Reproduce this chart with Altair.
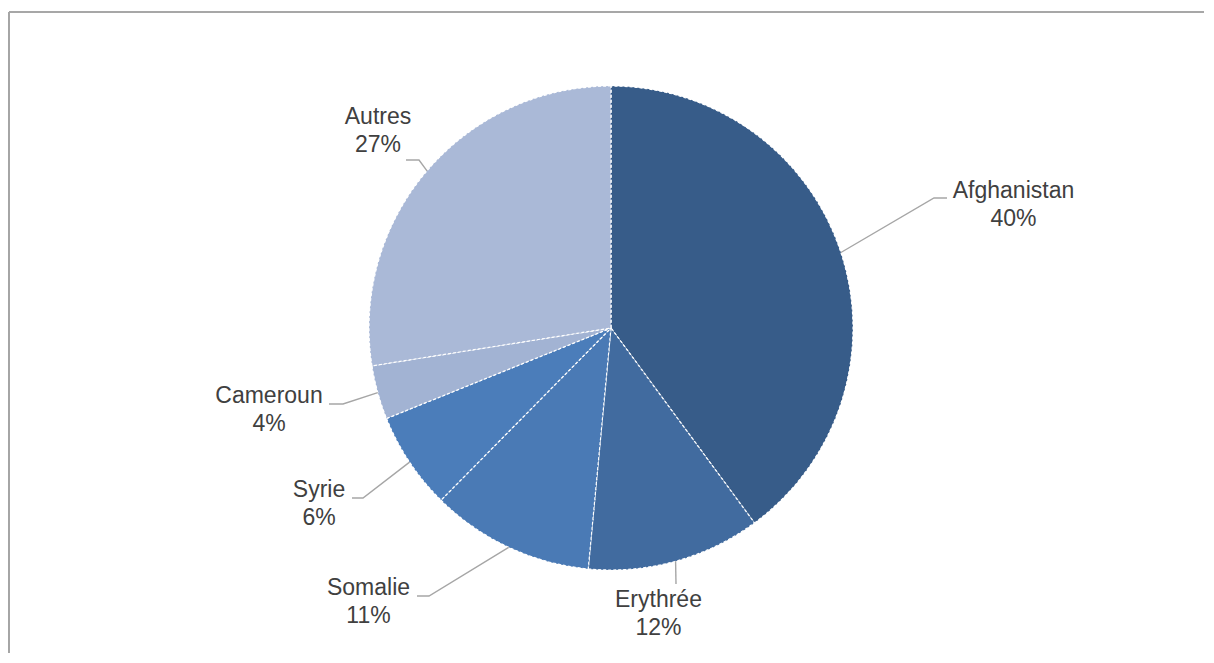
import math
import altair as alt
import pandas as pd

# ---- data ----
countries = ["Afghanistan", "Erythrée", "Somalie", "Syrie", "Cameroun", "Autres"]
shares = [39.9, 11.6, 10.9, 6.5, 3.6, 27.5]
pct_labels = ["40%", "12%", "11%", "6%", "4%", "27%"]
colors = ["#375c89", "#416b9f", "#4a7ab5", "#4b7dba", "#a2b3d3", "#aab9d7"]

# ---- layout (annotation placement, relative to pie centre, y up) ----
W, H = 1196, 645
CX, CY = 603, 320          # pie centre inside the plot area (pixels)
R = 242                    # pie radius
label_xy = [(402.5, 137), (47.5, -271.5), (-242.5, -259.5),
            (-292, -162), (-342, -68), (-233, 211)]
elbow_xy = [(323, 130), (65, -256), (-182, -268),
            (-248, -170), (-268, -76), (-192, 168)]
end_xy = [(336, 130), (65, -256), (-194, -268),
          (-259, -170), (-282, -76), (-205, 168)]

xscale = alt.Scale(domain=[-CX, W - CX], range=[0, W], nice=False, zero=False)
yscale = alt.Scale(domain=[-(H - CY), CY], range=[H, 0], nice=False, zero=False)

pie_df = pd.DataFrame({"country": countries, "value": shares,
                       "order": list(range(len(countries)))})

# leader lines start at the slice mid-angle on the pie edge
total = sum(shares)
cum = 0.0
rows = []
for i, (c, v) in enumerate(zip(countries, shares)):
    mid = (cum + v / 2) / total * 2 * math.pi
    cum += v
    sx, sy = R * math.sin(mid), R * math.cos(mid)
    for k, (px, py) in enumerate([(sx, sy), elbow_xy[i], end_xy[i]]):
        rows.append({"country": c, "seq": k, "x": px, "y": py})
lead_df = pd.DataFrame(rows)

lab_df = pd.DataFrame({
    "country": countries,
    "text": [f"{c}\n{p}" for c, p in zip(countries, pct_labels)],
    "x": [p[0] for p in label_xy],
    "y": [p[1] for p in label_xy],
})

pie = alt.Chart(pie_df).mark_arc(
    outerRadius=R, stroke="white", strokeWidth=1.2, strokeDash=[3, 2]
).encode(
    theta=alt.Theta("value:Q", stack=True),
    color=alt.Color("country:N", scale=alt.Scale(domain=countries, range=colors), legend=None),
    order=alt.Order("order:Q"),
    x=alt.X(datum=0, scale=xscale, axis=None),
    y=alt.Y(datum=0, scale=yscale, axis=None),
)

leaders = alt.Chart(lead_df).mark_line(color="#a6a6a6", strokeWidth=1.4).encode(
    x=alt.X("x:Q", scale=xscale, axis=None),
    y=alt.Y("y:Q", scale=yscale, axis=None),
    detail="country:N",
    order="seq:Q",
)

labels = alt.Chart(lab_df).mark_text(
    font="Liberation Sans", fontSize=23, color="#404040", align="center",
    baseline="middle", lineBreak="\n", lineHeight=28
).encode(
    x=alt.X("x:Q", scale=xscale, axis=None),
    y=alt.Y("y:Q", scale=yscale, axis=None),
    text="text:N",
)

frame_top = alt.Chart(pie_df).mark_rule(color="#a6a6a6", strokeWidth=1.2).encode(
    x=alt.value(1), x2=alt.value(W), y=alt.value(4)
)
frame_left = alt.Chart(pie_df).mark_rule(color="#a6a6a6", strokeWidth=1.2).encode(
    x=alt.value(1), y=alt.value(4), y2=alt.value(H)
)

chart = alt.layer(frame_top, frame_left, pie, leaders, labels).properties(
    width=W, height=H, padding=0, autosize=alt.AutoSizeParams(type="none"),
    background="white"
).configure_view(stroke="transparent", strokeWidth=0)

chart.save("out.html", embed_options={"renderer": "svg", "actions": False})
